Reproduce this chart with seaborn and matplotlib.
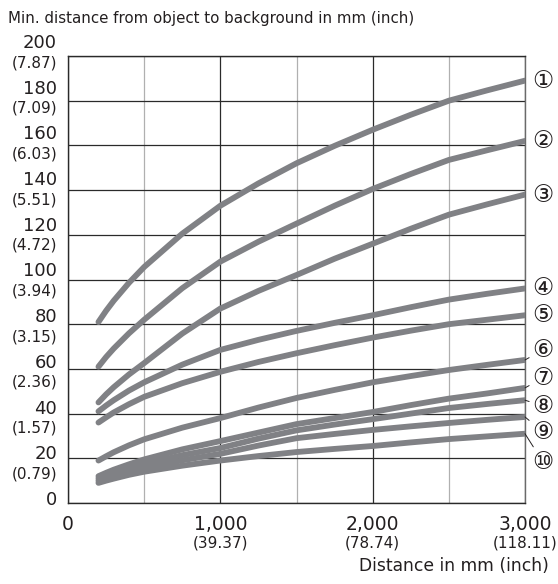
import numpy as np
import pandas as pd
import matplotlib
matplotlib.use("Agg")
import matplotlib.pyplot as plt
import seaborn as sns
from matplotlib import transforms

# ---------------- data ----------------
distance_mm = [200, 250, 300, 400, 500, 750, 1000, 1250, 1500, 1750,
               2000, 2250, 2500, 2750, 3000]
curve_1 = [81, 86, 90.5, 98.5, 105.6, 120.5, 133, 143, 152, 159.8,
           167, 173.7, 180, 184.6, 189]
curve_2 = [61, 65.3, 69.1, 75.9, 82, 96.1, 108, 116.9, 125, 133,
           140.5, 147.2, 153.5, 157.8, 162]
curve_3 = [45, 48.6, 51.8, 57.5, 62.6, 75.8, 87, 94.9, 102, 109.3,
           116, 122.7, 129, 133.6, 138]
curve_4 = [41, 43.6, 46, 50.3, 54, 61.9, 68.5, 73, 77, 80.6,
           84, 87.6, 91, 93.6, 96]
curve_5 = [36, 38.3, 40.5, 44.2, 47.5, 53.6, 58.7, 63.1, 67, 70.6,
           74, 77.1, 80, 82, 84]
curve_6 = [19, 20.9, 22.7, 25.8, 28.5, 33.7, 38, 42.7, 47, 50.6,
           54, 56.8, 59.5, 61.8, 64]
curve_7 = [12, 13.5, 14.9, 17.3, 19.5, 24, 27.7, 31.5, 35.3, 38,
           40.7, 43.8, 46.7, 49, 51.5]
curve_8 = [11, 12.3, 13.5, 15.6, 17.5, 21.4, 24.6, 28.8, 32.5, 35.1,
           37.5, 40, 42.5, 44.3, 46]
curve_9 = [10, 11.2, 12.2, 14.1, 15.8, 19.1, 22, 25.7, 29, 30.9,
           32.7, 34.3, 35.8, 37.2, 38.5]
curve_10 = [9, 10, 10.9, 12.6, 14, 16.7, 19, 21, 22.8, 24.2,
            25.5, 27.1, 28.6, 29.8, 31]
curves = [curve_1, curve_2, curve_3, curve_4, curve_5,
          curve_6, curve_7, curve_8, curve_9, curve_10]
curve_names = ["①", "②", "③", "④", "⑤", "⑥", "⑦", "⑧", "⑨", "⑩"]
label_y = [189, 162, 138, 96, 84, 68.5, 56, 43.4, 31.8, 18.3]

y_ticks = [0, 20, 40, 60, 80, 100, 120, 140, 160, 180, 200]
y_tick_inch = ["", "(0.79)", "(1.57)", "(2.36)", "(3.15)", "(3.94)",
               "(4.72)", "(5.51)", "(6.03)", "(7.09)", "(7.87)"]
x_ticks = [0, 1000, 2000, 3000]
x_tick_labels = ["0", "1,000", "2,000", "3,000"]
x_tick_inch = ["", "(39.37)", "(78.74)", "(118.11)"]
x_minor = [500, 1500, 2500]

y_title = "Min. distance from object to background in mm (inch)"
x_title = "Distance in mm (inch)"

# ---------------- figure ----------------
sns.set_style("white")
plt.rcParams["font.family"] = ["DejaVu Sans"]

df = pd.DataFrame({
    "distance": np.tile(distance_mm, len(curves)),
    "value": np.concatenate(curves),
    "curve": np.repeat(curve_names, len(distance_mm)),
})

fig = plt.figure(figsize=(5.58, 5.84), dpi=100)
ax = fig.add_axes([68 / 558, 81 / 584, 457 / 558, 447 / 584])

line_grey = "#808185"
sns.lineplot(data=df, x="distance", y="value", hue="curve",
             palette=[line_grey] * len(curves), legend=False, ax=ax,
             linewidth=4.2, solid_capstyle="round", solid_joinstyle="round",
             zorder=3)

ax.set_xlim(0, 3000)
ax.set_ylim(0, 200)
ax.set_xticks(x_ticks)
ax.set_xticks(x_minor, minor=True)
ax.set_yticks(y_ticks)
ax.set_xticklabels([])
ax.set_yticklabels([])
ax.tick_params(which="both", length=0)
ax.grid(False)
ax.grid(which="major", axis="y", color="#2a2a2a", linewidth=0.9, zorder=1)
ax.grid(which="major", axis="x", color="#2a2a2a", linewidth=0.9, zorder=1)
ax.grid(which="minor", axis="x", color="#b0b0b0", linewidth=0.9, zorder=1)
ax.set_axisbelow(True)
for side in ["left", "bottom", "top"]:
    ax.spines[side].set_color("#2a2a2a")
    ax.spines[side].set_linewidth(1.0)
ax.spines["right"].set_color("#6a6a6a")
ax.spines["right"].set_linewidth(1.0)
ax.set_xlabel("")
ax.set_ylabel("")

# y tick labels (two sizes)
ytrans = transforms.blended_transform_factory(ax.transAxes, ax.transData)
for v, inch in zip(y_ticks, y_tick_inch):
    p = 43 + (200 - v) * 2.285          # pixel centre of the number
    yn = (503 - p) / 447 * 200
    ax.text(-0.024, yn, str(v), transform=ytrans, ha="right", va="center",
            fontsize=13, color="#231f20")
    if inch:
        yp = (503 - (p + 19.5)) / 447 * 200
        ax.text(-0.024, yp, inch, transform=ytrans, ha="right", va="center",
                fontsize=11, color="#231f20")

# x tick labels (two sizes)
xtrans = transforms.blended_transform_factory(ax.transData, ax.transAxes)
for x, lab, inch in zip(x_ticks, x_tick_labels, x_tick_inch):
    ax.text(x, -0.047, lab, transform=xtrans, ha="center", va="center",
            fontsize=13.5, color="#231f20")
    if inch:
        ax.text(x, -0.0895, inch, transform=xtrans, ha="center", va="center",
                fontsize=11, color="#231f20")

# curve labels
for i, (name, ly, c) in enumerate(zip(curve_names, label_y, curves)):
    if i < 5:
        ax.text(3118, ly, name, ha="center", va="center", fontsize=17,
                color="#231f20", clip_on=False)
    else:
        ax.annotate(name, xy=(3000, c[-1]), xytext=(3118, ly),
                    textcoords="data", ha="center", va="center", fontsize=17,
                    color="#231f20", annotation_clip=False,
                    arrowprops=dict(arrowstyle="-", lw=0.7, color="#231f20",
                                    shrinkA=0, shrinkB=0))

fig.text(8 / 558, 1 - 18 / 584, y_title, ha="left", va="center",
         fontsize=10.8, color="#231f20")
fig.text(549 / 558, 1 - 566 / 584, x_title, ha="right", va="center",
         fontsize=12.3, color="#231f20")

fig.savefig("out.png", dpi=100)
